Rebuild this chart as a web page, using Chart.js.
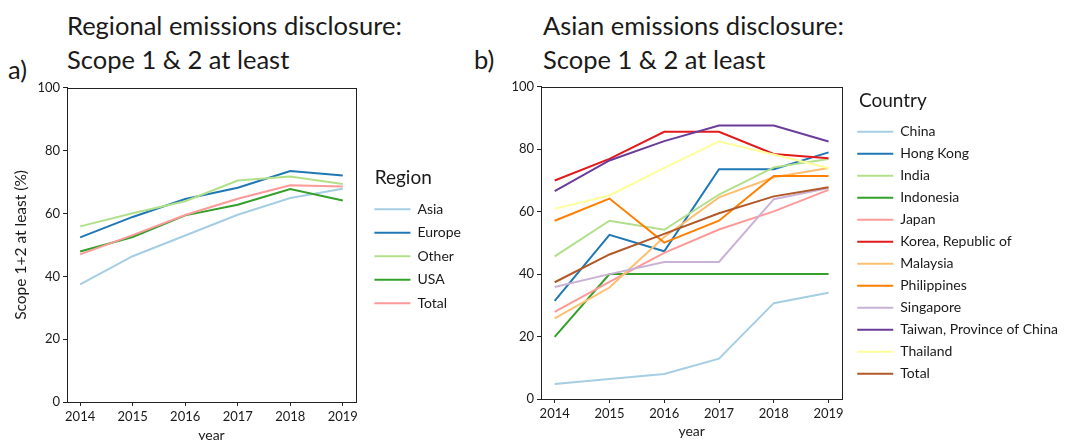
<!DOCTYPE html>
<html>
<head>
<meta charset="utf-8">
<script src="https://cdn.jsdelivr.net/npm/chart.js@4.4.0/dist/chart.umd.min.js"></script>
<style>
  body { margin: 0; background: #fff; width: 1066px; height: 440px; overflow: hidden; position: relative; font-family: Lato, sans-serif; color: #1a1a1a; }
  canvas { position: absolute; }
  .t { position: absolute; font-size: 25.5px; line-height: 34px; white-space: nowrap; }
</style>
</head>
<body>
<div class="t" style="left:67px; top:8px;">Regional emissions disclosure:<br>Scope 1 &amp; 2 at least</div>
<div class="t" style="left:8px; top:52px;">a)</div>
<div class="t" style="left:543px; top:8px;">Asian emissions disclosure:<br>Scope 1 &amp; 2 at least</div>
<div class="t" style="left:474px; top:42px;">b)</div>
<canvas id="regionChart" width="471" height="363" style="left:0; top:77px;"></canvas>
<canvas id="asiaChart" width="1068" height="364" style="left:0; top:76px;"></canvas>
<script>
const years = [2014, 2015, 2016, 2017, 2018, 2019]
const yTicks = [0, 20, 40, 60, 80, 100]

// panel a) regions
const regionNames = ['Asia', 'Europe', 'Other', 'USA', 'Total']
const asiaVals = [37.4, 46.4, 53.0, 59.6, 64.9, 67.9]
const europeVals = [52.4, 58.9, 64.6, 68.2, 73.5, 72.1]
const otherVals = [55.9, 60.1, 63.9, 70.5, 71.8, 69.4]
const usaVals = [47.9, 52.5, 59.4, 62.8, 67.8, 64.1]
const regionTotalVals = [47.0, 53.1, 59.5, 64.7, 69.0, 68.6]
const regionVals = [asiaVals, europeVals, otherVals, usaVals, regionTotalVals]

// panel b) asian countries
const countryNames = ['China', 'Hong Kong', 'India', 'Indonesia', 'Japan', 'Korea, Republic of',
    'Malaysia', 'Philippines', 'Singapore', 'Taiwan, Province of China', 'Thailand', 'Total']
const chinaVals = [4.8, 6.4, 8.0, 12.9, 30.7, 34.0]
const hongKongVals = [31.4, 52.6, 47.3, 73.6, 73.6, 79.0]
const indiaVals = [45.7, 57.1, 54.2, 65.5, 74.2, 76.9]
const indonesiaVals = [19.9, 40.0, 40.0, 40.0, 40.0, 40.0]
const japanVals = [27.9, 37.5, 46.8, 54.3, 60.1, 67.0]
const koreaVals = [70.0, 76.9, 85.6, 85.6, 78.5, 77.1]
const malaysiaVals = [25.8, 35.7, 51.9, 64.6, 71.0, 74.0]
const philippinesVals = [57.1, 64.2, 50.1, 57.1, 71.4, 71.4]
const singaporeVals = [35.9, 40.0, 43.9, 43.9, 64.0, 67.6]
const taiwanVals = [66.6, 76.4, 82.6, 87.6, 87.6, 82.5]
const thailandVals = [60.9, 65.2, 74.0, 82.5, 78.3, 74.0]
const asiaTotalVals = [37.4, 46.3, 52.9, 59.5, 64.9, 67.8]
const countryVals = [chinaVals, hongKongVals, indiaVals, indonesiaVals, japanVals, koreaVals,
    malaysiaVals, philippinesVals, singaporeVals, taiwanVals, thailandVals, asiaTotalVals]

// matplotlib "Paired"
const paired = ['#a6cee3', '#1f78b4', '#b2df8a', '#33a02c', '#fb9a99', '#e31a1c',
    '#fdbf6f', '#ff7f00', '#cab2d6', '#6a3d9a', '#ffff99', '#b15928']

const ink = '#1a1a1a'
const font = 'Lato, sans-serif'

// full box around the plot like matplotlib spines
const frameBox = {
    id: 'frameBox',
    afterDatasetsDraw(chart) {
        const a = chart.chartArea
        const ctx = chart.ctx
        ctx.save()
        ctx.strokeStyle = '#222'
        ctx.lineWidth = 1
        ctx.strokeRect(Math.round(a.left) + 0.5, Math.round(a.top) + 0.5,
            Math.round(a.right - a.left), Math.round(a.bottom - a.top))
        ctx.restore()
    }
}

function makeDatasets(names, vals) {
    return names.map((name, i) => ({
        label: name,
        data: years.map((yr, j) => ({ x: yr, y: vals[i][j] })),
        borderColor: paired[i],
        backgroundColor: paired[i],
        borderWidth: 2,
        pointRadius: 0,
        tension: 0,
        fill: false,
        order: names.length - i
    }))
}

function makeOptions(cfg) {
    return {
        responsive: false,
        animation: false,
        layout: { padding: 0 },
        plugins: {
            tooltip: { enabled: false },
            legend: {
                position: 'right',
                align: 'start',
                maxWidth: 320,
                title: {
                    display: true,
                    position: 'start',
                    // legend title has no left padding option, nudge it with spaces
                    text: '  ' + cfg.legendTitle,
                    color: ink,
                    font: { family: font, size: 19 },
                    padding: { top: cfg.titleTop, bottom: cfg.titleBottom }
                },
                labels: {
                    color: ink,
                    font: { family: font, size: 14 },
                    usePointStyle: true,
                    pointStyle: 'line',
                    pointStyleWidth: 36,
                    padding: cfg.itemPad,
                    sort: (a, b) => a.datasetIndex - b.datasetIndex
                }
            }
        },
        scales: {
            x: {
                type: 'linear',
                min: 2013.75,
                max: 2019.25,
                afterBuildTicks: s => { s.ticks = years.map(v => ({ value: v })) },
                afterFit: s => { s.height = cfg.xHeight },
                ticks: { color: ink, font: { family: font, size: 13 }, padding: 3, callback: v => String(v), maxRotation: 0 },
                grid: { display: true, drawOnChartArea: false, drawTicks: true, tickLength: 4, color: '#222' },
                border: { display: true, color: '#222' },
                title: { display: true, text: 'year', color: ink, font: { family: font, size: 14 }, padding: { top: 4, bottom: cfg.yearPad } }
            },
            y: {
                min: 0,
                max: 100,
                afterBuildTicks: s => { s.ticks = yTicks.map(v => ({ value: v })) },
                afterFit: s => { s.width = cfg.yWidth },
                ticks: { color: ink, font: { family: font, size: 13 }, padding: 3 },
                grid: { display: true, drawOnChartArea: false, drawTicks: true, tickLength: 4, color: '#222' },
                border: { display: true, color: '#222' },
                title: { display: !!cfg.yTitle, text: cfg.yTitle, color: ink, font: { family: font, size: 15.5 }, padding: { top: 12, bottom: 0 } }
            },
            // empty spacer between plot and legend
            gap: {
                type: 'linear',
                position: 'right',
                display: true,
                ticks: { display: false },
                grid: { display: false, drawTicks: false },
                border: { display: false },
                afterFit: s => { s.width = cfg.gapWidth }
            }
        }
    }
}

const regionChart = new Chart(document.getElementById('regionChart'), {
    type: 'line',
    data: { datasets: makeDatasets(regionNames, regionVals) },
    options: makeOptions({
        legendTitle: 'Region', yTitle: 'Scope 1+2 at least (%)',
        yWidth: 67, xHeight: 38, gapWidth: 9,
        itemPad: 9.5, titleTop: 91, titleBottom: 2, yearPad: -4
    }),
    plugins: [frameBox]
})

const asiaChart = new Chart(document.getElementById('asiaChart'), {
    type: 'line',
    data: { datasets: makeDatasets(countryNames, countryVals) },
    options: makeOptions({
        legendTitle: 'Country', yTitle: '',
        yWidth: 541, xHeight: 41, gapWidth: 7,
        itemPad: 8, titleTop: 15, titleBottom: 3, yearPad: 0
    }),
    plugins: [frameBox]
})
</script>
</body>
</html>
